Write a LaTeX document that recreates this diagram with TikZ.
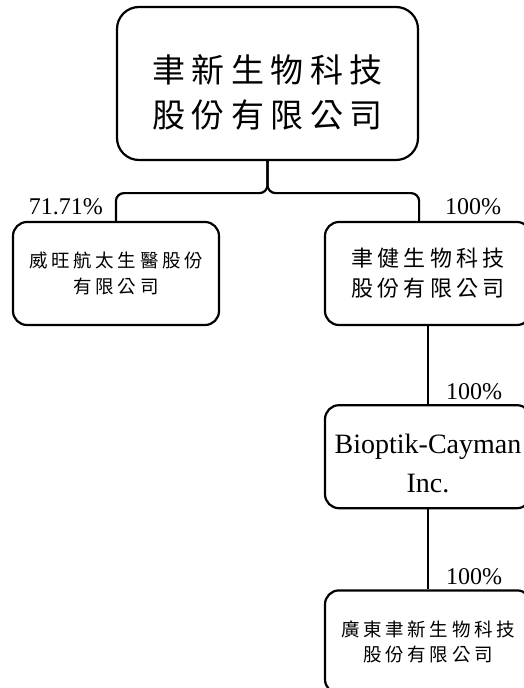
\documentclass[tikz,border=0pt]{standalone}
\usepackage{fontspec}
\setmainfont{Liberation Serif}
\newfontfamily\cjk[LetterSpace=20]{Noto Sans CJK TC}
\usetikzlibrary{positioning}
\begin{document}
\begin{tikzpicture}[x=1pt,y=-1pt,line width=2.2pt,
	box/.style={draw, rounded corners=14pt, minimum width=206pt, minimum height=103pt, align=center, inner sep=0pt},
	pct/.style={font=\fontsize{24}{24}\selectfont, inner sep=0pt}]
	\useasboundingbox (0,0) rectangle (523,688);
	\node (top) [box, minimum width=301pt, minimum height=153pt, rounded corners=22pt, font={\cjk\fontsize{33}{45}\selectfont}] at (267.5,83.5) {\rule{0pt}{46pt}聿新生物科技\\股份有限公司};
	\node (left) [box, font={\cjk\fontsize{18.5}{26}\selectfont}] at (116,273.5) {威旺航太生醫股份\\有限公司};
	\node (sub1) [box, font={\cjk\fontsize{22}{30}\selectfont}] at (428,273.5) {聿健生物科技\\股份有限公司};
	\node (bioptik) [box, below=78pt of sub1, font=\fontsize{28}{39}\selectfont] {\rule{0pt}{32pt}Bioptik-Cayman\\Inc.};
	\node (bottom) [box, below=80pt of bioptik, font={\cjk\fontsize{18.5}{25}\selectfont}] {廣東聿新生物科技\\股份有限公司};
	
	\draw[rounded corners=8pt] (top.south) -- ++(0,32) -| (top.south west |- left.north);
	\draw[rounded corners=8pt] (top.south) -- ++(0,32) -| (top.south east |- sub1.north);
	\draw (sub1) -- (bioptik);
	\draw (bioptik) -- (bottom);
	
	\node (p1) [pct, anchor=base east, xshift=-12pt, yshift=6pt] at (top.south west |- left.north) {71.71\%};
	\node (p2) [pct, anchor=base west, xshift=25pt, yshift=6pt] at (top.south east |- sub1.north) {100\%};
	\node (p3) [pct, anchor=base west, xshift=17pt, yshift=5pt] at (bioptik.north) {100\%};
	\node (p4) [pct, anchor=base west, xshift=17pt, yshift=5pt] at (bottom.north) {100\%};
\end{tikzpicture}
\end{document}
